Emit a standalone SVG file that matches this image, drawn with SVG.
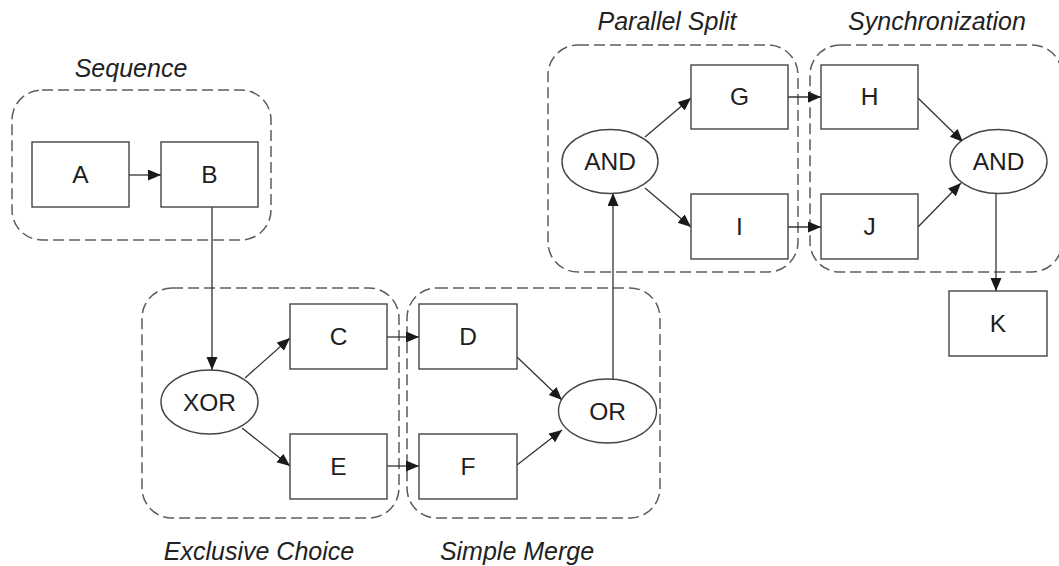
<svg xmlns="http://www.w3.org/2000/svg" width="1059" height="566" viewBox="0 0 1059 566">
  <style>
    .region { fill: none; stroke: #5c5c5c; stroke-width: 1.5; stroke-dasharray: 11 5; }
    .task { fill: #ffffff; stroke: #444444; stroke-width: 1.4; }
    .gate { fill: #ffffff; stroke: #444444; stroke-width: 1.4; }
    .label { font-family: "Liberation Sans", Arial, sans-serif; font-size: 24.5px; fill: #1e1e1e; text-anchor: middle; }
    .title { font-family: "Liberation Sans", Arial, sans-serif; font-size: 25px; font-style: italic; fill: #222222; text-anchor: middle; }
    .flow { fill: none; stroke: #333333; stroke-width: 1.3; marker-end: url(#arrow); }
  </style>
  <defs>
    <marker id="arrow" markerUnits="userSpaceOnUse" markerWidth="14" markerHeight="12" refX="13" refY="5.5" orient="auto">
      <path d="M0,0 L13,5.5 L0,11 Z" fill="#1a1a1a"/>
    </marker>
  </defs>
  <rect width="1059" height="566" fill="#ffffff"/>

  <!-- pattern regions -->
  <g id="regions">
    <rect class="region" x="12" y="90" width="259" height="150" rx="30" ry="30"/>
    <rect class="region" x="142" y="288" width="257" height="230" rx="30" ry="30"/>
    <rect class="region" x="407" y="288" width="253" height="230" rx="30" ry="30"/>
    <rect class="region" x="548" y="45" width="250" height="227" rx="30" ry="30"/>
    <rect class="region" x="810" y="45" width="252" height="227" rx="30" ry="30"/>
  </g>

  <!-- region titles -->
  <g id="titles">
    <text class="title" x="131" y="77">Sequence</text>
    <text class="title" x="259" y="560">Exclusive Choice</text>
    <text class="title" x="517" y="560">Simple Merge</text>
    <text class="title" x="667" y="30">Parallel Split</text>
    <text class="title" x="937" y="30">Synchronization</text>
  </g>

  <!-- connectors -->
  <g id="connectors">
    <line class="flow" x1="129" y1="175" x2="161" y2="175"/>
    <line class="flow" x1="212" y1="207" x2="212" y2="370"/>
    <line class="flow" x1="245" y1="378" x2="290" y2="338"/>
    <line class="flow" x1="242" y1="428" x2="290" y2="466"/>
    <line class="flow" x1="387" y1="337" x2="419" y2="337"/>
    <line class="flow" x1="387" y1="466" x2="419" y2="466"/>
    <line class="flow" x1="517" y1="357" x2="562" y2="400"/>
    <line class="flow" x1="517" y1="465" x2="562" y2="430"/>
    <line class="flow" x1="613" y1="379" x2="613" y2="193"/>
    <line class="flow" x1="645" y1="137" x2="691" y2="98"/>
    <line class="flow" x1="645" y1="188" x2="691" y2="227"/>
    <line class="flow" x1="788" y1="97" x2="821" y2="97"/>
    <line class="flow" x1="788" y1="227" x2="821" y2="227"/>
    <line class="flow" x1="918" y1="98" x2="963" y2="142"/>
    <line class="flow" x1="918" y1="227" x2="961" y2="183"/>
    <line class="flow" x1="996" y1="193" x2="996" y2="291"/>
  </g>

  <!-- tasks and gateways -->
  <g id="node-A"><rect class="task" x="32" y="142" width="97" height="65"/><text class="label" x="80.5" y="183">A</text></g>
  <g id="node-B"><rect class="task" x="161" y="142" width="97" height="65"/><text class="label" x="209.5" y="183">B</text></g>
  <g id="node-XOR"><ellipse class="gate" cx="209.5" cy="402" rx="48.5" ry="32"/><text class="label" x="209.5" y="411">XOR</text></g>
  <g id="node-C"><rect class="task" x="290" y="304" width="97" height="65"/><text class="label" x="338.5" y="345">C</text></g>
  <g id="node-E"><rect class="task" x="290" y="434" width="97" height="65"/><text class="label" x="338.5" y="475">E</text></g>
  <g id="node-D"><rect class="task" x="419" y="304" width="98" height="65"/><text class="label" x="468" y="345">D</text></g>
  <g id="node-F"><rect class="task" x="419" y="434" width="98" height="65"/><text class="label" x="468" y="475">F</text></g>
  <g id="node-OR"><ellipse class="gate" cx="607.5" cy="411" rx="49" ry="32"/><text class="label" x="607.5" y="420">OR</text></g>
  <g id="node-AND-split"><ellipse class="gate" cx="610" cy="161.5" rx="48" ry="32"/><text class="label" x="610" y="170">AND</text></g>
  <g id="node-G"><rect class="task" x="691" y="65" width="97" height="64"/><text class="label" x="739.5" y="105">G</text></g>
  <g id="node-I"><rect class="task" x="691" y="194" width="97" height="65"/><text class="label" x="739.5" y="235">I</text></g>
  <g id="node-H"><rect class="task" x="821" y="65" width="97" height="64"/><text class="label" x="869.5" y="105">H</text></g>
  <g id="node-J"><rect class="task" x="821" y="194" width="97" height="65"/><text class="label" x="869.5" y="235">J</text></g>
  <g id="node-AND-join"><ellipse class="gate" cx="998.5" cy="161.5" rx="48.5" ry="32"/><text class="label" x="998.5" y="170">AND</text></g>
  <g id="node-K"><rect class="task" x="949" y="291" width="98" height="65"/><text class="label" x="998" y="332">K</text></g>
</svg>
